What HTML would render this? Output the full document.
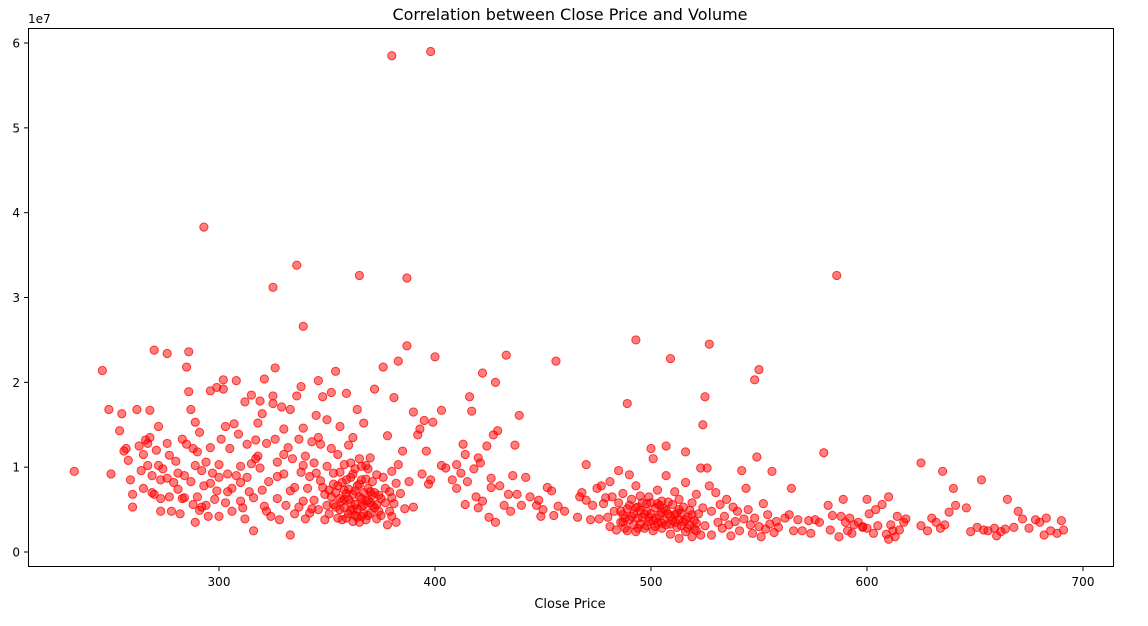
<!DOCTYPE html>
<html><head><meta charset="utf-8"><style>
body{margin:0;background:#fff;}
svg text{font-family:"DejaVu Sans","Liberation Sans",sans-serif;fill:#000;}
</style></head><body>
<svg id="chart" width="1148" height="621" xmlns="http://www.w3.org/2000/svg">
<text x="570" y="20" text-anchor="middle" font-size="16">Correlation between Close Price and Volume</text>
<text x="570" y="608" text-anchor="middle" font-size="13">Close Price</text>
<text x="28" y="23" font-size="12">1e7</text>
<g id="ticks"></g>
<g id="points"></g>
<rect x="28.5" y="28.5" width="1085" height="538" fill="none" stroke="#000" stroke-width="1"/>
</svg>
<script>
const xTicks=[300,400,500,600,700];
const yTicks=[0,1,2,3,4,5,6];
// [close price, volume in millions]
const outlierPoints=[[380,58.5],[398,59],[293,38.3],[336,33.8],[365,32.6],[387,32.3],[325,31.2],[339,26.6],[586,32.6],[246,21.4],[233,9.5],[270,23.8],[276,23.4],[286,23.6],[387,24.3],[383,22.5],[400,23],[433,23.2],[456,22.5],[493,25],[509,22.8],[527,24.5],[550,21.5],[548,20.3],[525,18.3],[524,15],[489,17.5],[500,12.2],[507,12.5],[516,11.8],[580,11.7],[625,10.5],[635,9.5],[653,8.5],[665,6.2],[610,6.5],[600,6.2]];
const leftPoints=[[249,16.8],[250,9.2],[254,14.3],[255,16.3],[256,11.9],[257,12.2],[258,10.8],[259,8.5],[260,6.8],[260,5.3],[262,16.8],[263,12.5],[264,9.6],[265,11.5],[265,7.5],[266,13.2],[267,12.8],[267,10.2],[268,16.7],[268,13.5],[269,9],[269,7],[270,6.8],[271,12],[272,10.2],[272,14.8],[273,8.5],[273,6.3],[273,4.8],[274,9.8],[276,12.8],[277,11.4],[277,6.5],[278,4.8],[279,8.2],[280,10.7],[281,9.3],[281,7.4],[282,4.5],[283,13.3],[284,6.4],[284,9],[285,12.7],[285,21.8],[286,18.9],[287,16.8],[287,8.3],[288,5.6],[288,12.2],[289,15.3],[289,10.2],[289,3.5],[290,6.5],[290,11.8],[291,14.1],[291,4.9],[292,9.6],[293,7.8],[294,10.6],[294,5.5],[295,4.2],[296,12.3],[296,19],[297,9.3],[298,6.2],[299,19.4],[299,7.2],[300,10.3],[300,4.2],
[301,13.3],[302,20.3],[302,19.2],[303,14.8],[303,5.8],[304,9.2],[305,12.2],[306,7.5],[306,4.8],[307,15.1],[308,20.2],[308,9],[309,13.9],[310,10.1],[310,6],[311,5.2],[312,17.7],[313,12.7],[313,8.8],[314,7.1],[315,18.5],[315,10.4],[316,2.5],[316,6.4],[317,13.2],[318,15.2],[318,11.3],[319,9.9],[320,16.3],[320,7.3],[321,20.4],[321,5.4],[322,12.8],[323,8.3],[324,4.2],[325,18.4],[325,17.5],[326,21.7],[326,13.3],[327,10.6],[327,6.3],[328,3.8],[329,17.1],[330,14.5],[330,9.2],[331,5.5],[332,12.3],[333,2],[333,16.8],[334,11],[335,7.6],[335,4.5],[336,18.4],[337,13.3],[338,9.4],[338,19.5],[339,14.6],[339,6],[340,11.3],[340,3.9],
[319,17.8],[317,11],[327,8.9],[330,11.5],[300,8.8],[310,8.2],[333,7.2],[343,5.1],[345,9.3],[312,3.9],[296,8.1],[283,6.3],[276,8.7],[292,5.3],[304,7.1],[322,4.8],[337,5.3],[346,13.5],[339,10.2]];
const denseLeftPoints=[[341,7.5],[342,4.6],[342,8.9],[343,13],[344,10.5],[344,6.1],[345,16.1],[346,20.2],[346,5],[347,12.7],[347,8.4],[348,18.3],[349,3.8],[349,6.8],[350,15.6],[350,10.1],[351,7.3],[351,4.5],[352,18.8],[352,12.2],[353,5.6],[353,9.3],[354,21.3],[354,7],[355,4],[355,11.5],[356,6.3],[356,14.8],[357,8.2],[357,3.8],[358,5.2],[358,10.3],[359,18.7],[359,6.9],[360,4.5],[360,12.6],[361,8.8],[361,5.8],[362,13.5],[362,3.6],[363,7.2],[363,9.8],[364,5.1],[364,16.8],[365,11],[365,6.5],[366,4.2],[366,8.5],[367,15.2],[367,5.5],[368,10.2],[368,3.8],[369,7.5],[369,6.1],[370,4.6],[370,11.1],[371,8.3],[372,5.2],[372,19.2],[373,3.9],[373,9.1],[374,6.7],[375,4.3],[376,21.8],[376,8.8],[377,5.8],[378,13.7],[378,3.2],[379,7.1],[380,9.5],[380,4.2],[381,18.2],[381,5.7],[382,3.5],[383,10.3],[384,6.9],[385,11.9],[386,5.1],[388,8.3],[390,16.5],[390,5.3],[392,13.8],[393,14.5],[395,15.5],[396,11.9],[397,8],[399,15.3],[398,8.5],
[352,6.5],[354,5.3],[356,9.4],[358,7.3],[360,6.2],[362,5],[364,7.8],[366,6.3],[368,8.6],[370,7.1],[372,7],[374,4.8],[359,4],[361,10.5],[355,7.8],[363,4.3],[367,4.5],[371,5.5],[369,9.8],[353,8],[357,6],[365,3.5]];
const clusterFillPoints=[[356,5],[358,6.2],[360,7.4],[361,4.9],[362,6.8],[363,5.6],[364,4.1],[365,8],[366,5.4],[367,7],[368,6],[369,4.3],[370,5.8],[371,6.7],[373,5.6],[375,6.3],[377,7.5],[379,4.8],[380,6.4],[382,8.1],[359,8.5],[362,9.2],[366,10.1],[350,5.5],[348,7.6],
[487,3.5],[491,4.2],[495,4.9],[499,4.1],[501,3.7],[503,5.7],[505,3.4],[507,4.9],[509,3.3],[511,4.4],[513,5],[515,3.6],[517,2.8],[519,4.4],[521,3.4],[494,2.8],[498,4.8],[502,3]];
const midPoints=[[403,10.2],[405,9.9],[408,8.5],[410,7.5],[410,10.3],[412,9.3],[413,12.7],[414,5.6],[414,11.5],[415,8.3],[416,18.3],[417,16.6],[418,9.8],[419,6.5],[420,11.1],[420,5.2],[421,10.5],[422,21.1],[422,6],[424,12.5],[425,4.1],[426,7.6],[426,8.7],[427,13.8],[428,20],[428,3.5],[429,14.3],[430,7.8],[432,5.5],[434,6.8],[435,4.8],[436,9],[437,12.6],[438,6.8],[439,16.1],[440,5.5],[442,8.8],[444,6.5],[447,5.5],[448,6.1],[449,4.2],[450,5],[452,7.6],[454,7.2],[455,4.3],[457,5.4],[460,4.8],[403,16.7],[394,9.2]];
const rightPoints=[[466,4.1],[467,6.5],[468,7],[470,10.3],[470,6.1],[472,3.8],[473,5.5],[475,7.5],[476,3.9],[477,7.8],[478,5.7],[479,6.4],[480,4.1],[481,8.3],[481,3],[482,6.5],[483,4.8],[484,2.6],[485,5.8],[485,9.6],[486,3.5],[487,4.4],[487,6.9],[488,2.8],[489,5.1],[490,3.8],[490,9.1],[491,6.2],[492,4.5],[493,2.4],[493,7.8],[494,5.3],[495,3.3],[495,6.6],[496,4.1],[497,2.8],[498,5.7],[499,3.6],[499,6.5],[500,4.5],[501,2.5],[501,11],[502,5.2],[503,3.4],[503,7.3],[504,4.3],[505,2.8],[505,6],[506,5.1],[507,3.2],[507,9],[508,4.5],[509,2.1],[510,5.6],[511,3.5],[511,7.1],[512,4.6],[513,1.6],[513,6.2],[514,3.1],[515,5.3],[516,2.4],[516,8.2],[517,4.1],[518,3.2],[519,5.8],[519,1.8],[520,3.7],[521,6.8],[521,2.5],[522,4.5],[523,9.9],[523,2],[524,5.2],[525,3.1],[526,9.9],[527,7.8],[528,4.8],[528,2],[530,7],[531,3.5],[532,5.6],[533,2.8],[534,4.2],[535,6.2],[536,3.2],[537,1.9],[538,5.3],[539,3.6],[540,4.8],[541,2.5],[542,9.6],[543,3.9],[544,7.5],[545,5],[546,3.2],[547,2.2],[548,4],[549,11.2],[550,3],[551,1.8],[552,5.7],[553,2.7],[554,4.4],[555,3.3],[556,9.5],[557,2.3],[558,3.6],[559,2.9],
[486,4.8],[488,4],[490,5.5],[492,3.2],[494,4],[496,5.8],[498,3.1],[500,5.8],[502,4],[504,5.5],[506,3.8],[508,5.9],[510,3.7],[512,2.9],[514,4.6],[516,3.8],[518,4.9],[520,2.7],[497,4.5],[509,4.2],[493,5.2],[513,3.8],[489,2.5],[505,4.7]];
const farRightPoints=[[562,4],[564,4.4],[565,7.5],[566,2.5],[568,3.8],[570,2.5],[574,2.2],[576,3.8],[578,3.5],[582,5.5],[583,2.6],[584,4.3],[587,1.8],[588,4.2],[589,6.2],[590,3.5],[591,2.5],[592,4],[593,2.2],[594,3.2],[596,3.5],[598,3],[600,2.8],[601,4.5],[603,2.2],[604,5],[605,3.1],[607,5.6],[609,2.1],[610,1.5],[611,3.2],[612,2.5],[613,1.8],[614,4.2],[615,2.6],[617,3.5],[618,3.9],[625,3.1],[628,2.5],[630,4],[632,3.5],[634,2.8],[636,3.2],[638,4.7],[640,7.5],[641,5.5],[646,5.2],[648,2.4],[651,2.9],[654,2.6],[656,2.5],[659,2.8],[660,1.9],[662,2.4],[664,2.7],[668,2.9],[670,4.8],[672,3.9],[675,2.8],[678,3.8],[680,3.5],[682,2],[683,4],[685,2.5],[688,2.2],[690,3.7],[691,2.6],[598,2.9],[573,3.7]];
const allPoints=[].concat(outlierPoints,leftPoints,denseLeftPoints,clusterFillPoints,midPoints,rightPoints,farRightPoints);
const xPx=v=>219+(v-300)*2.16;
const yPx=v=>552-v*84.83; // v in units of 1e7
const svgNS="http://www.w3.org/2000/svg";
const tg=document.getElementById('ticks');
xTicks.forEach(t=>{
  const l=document.createElementNS(svgNS,'line');
  l.setAttribute('x1',xPx(t));l.setAttribute('x2',xPx(t));l.setAttribute('y1',567);l.setAttribute('y2',571);l.setAttribute('stroke','#000');
  
  
  tg.appendChild(l);
  const tx=document.createElementNS(svgNS,'text');
  tx.setAttribute('x',xPx(t));tx.setAttribute('y',586);tx.setAttribute('text-anchor','middle');tx.setAttribute('font-size','12');
  tx.textContent=t;
  
  
  tg.appendChild(tx);
});
yTicks.forEach(t=>{
  const l=document.createElementNS(svgNS,'line');
  l.setAttribute('x1',24);l.setAttribute('x2',28);l.setAttribute('y1',yPx(t));l.setAttribute('y2',yPx(t));l.setAttribute('stroke','#000');
  
  
  tg.appendChild(l);
  const tx=document.createElementNS(svgNS,'text');
  tx.setAttribute('x',20);tx.setAttribute('y',yPx(t)+4.5);tx.setAttribute('text-anchor','end');tx.setAttribute('font-size','12');
  tx.textContent=t;
  
  
  tg.appendChild(tx);
});
const pg=document.getElementById('points');
allPoints.forEach(p=>{
  const c=document.createElementNS(svgNS,'circle');
  c.setAttribute('cx',xPx(p[0]));c.setAttribute('cy',yPx(p[1]/10));c.setAttribute('r',4.1);
  c.setAttribute('fill','rgba(255,0,0,0.5)');c.setAttribute('stroke','rgba(255,0,0,0.75)');c.setAttribute('stroke-width','1');
  
  
  pg.appendChild(c);
});
</script>
</body></html>
